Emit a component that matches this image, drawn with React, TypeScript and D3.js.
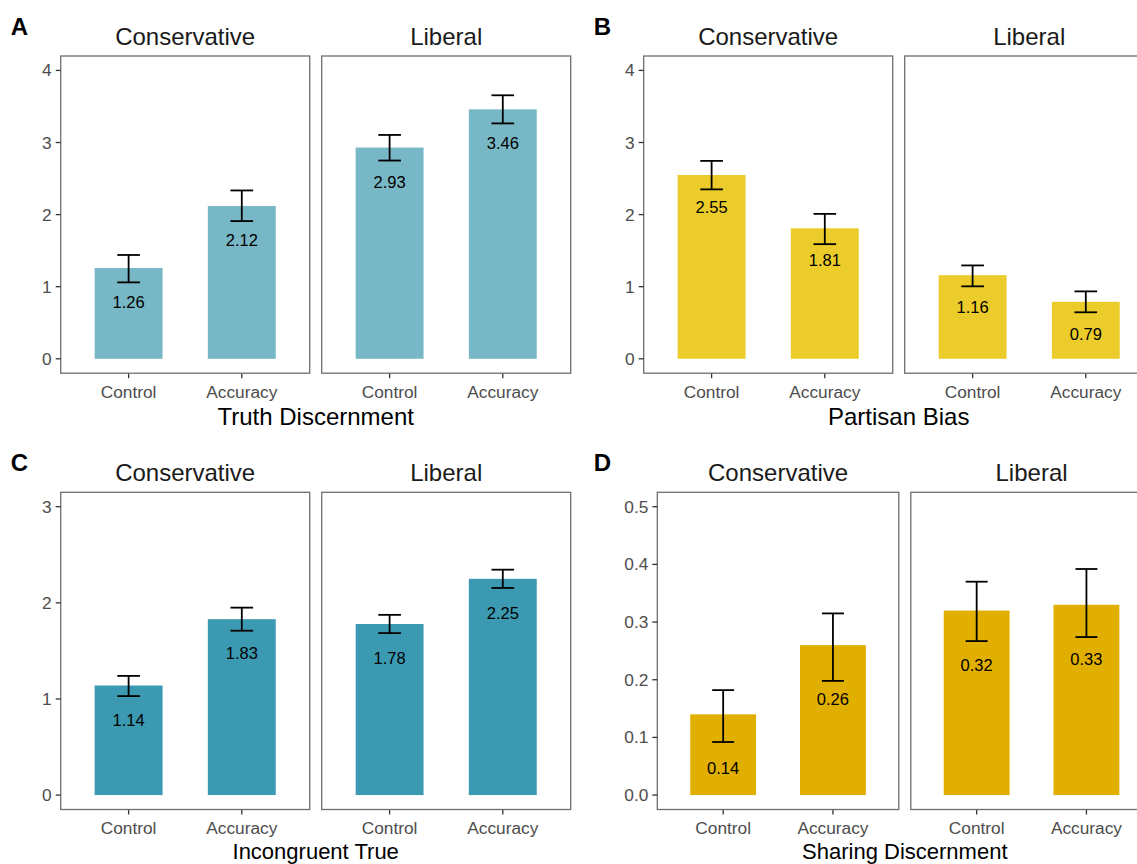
import React from "react";
import * as d3 from "d3";

// Conditions within each facet and the facets themselves
const conditions = ["Control", "Accuracy"];
const ideologies = ["Conservative", "Liberal"];

// Values are ordered: Conservative-Control, Conservative-Accuracy, Liberal-Control, Liberal-Accuracy
const truthMean = [1.26, 2.12, 2.93, 3.46];
const truthLow = [1.06, 1.91, 2.75, 3.265];
const truthHigh = [1.44, 2.335, 3.105, 3.655];

const biasMean = [2.55, 1.81, 1.16, 0.79];
const biasLow = [2.35, 1.59, 1.005, 0.645];
const biasHigh = [2.745, 2.01, 1.295, 0.935];

const incongMean = [1.14, 1.83, 1.78, 2.25];
const incongLow = [1.03, 1.71, 1.685, 2.155];
const incongHigh = [1.24, 1.95, 1.875, 2.345];

const shareMean = [0.14, 0.26, 0.32, 0.33];
const shareLow = [0.092, 0.198, 0.267, 0.274];
const shareHigh = [0.182, 0.315, 0.37, 0.392];

// Axis ticks and limits
const truthTicks = [0, 1, 2, 3, 4];
const biasTicks = [0, 1, 2, 3, 4];
const incongTicks = [0, 1, 2, 3];
const shareTicks = [0, 0.1, 0.2, 0.3, 0.4, 0.5];

const panels = [
  {
    letter: "A", title: "Truth Discernment", mean: truthMean, low: truthLow, high: truthHigh,
    ticks: truthTicks, limit: 4, fmt: d3.format("d"), color: "#78B7C5",
    x0: 0, y0: 0, facetLeft: 60.7, facetWidth: 249, labelOffset: 34,
  },
  {
    letter: "B", title: "Partisan Bias", mean: biasMean, low: biasLow, high: biasHigh,
    ticks: biasTicks, limit: 4, fmt: d3.format("d"), color: "#EBCC2A",
    x0: 583, y0: 0, facetLeft: 60.7, facetWidth: 249, labelOffset: 32,
  },
  {
    letter: "C", title: "Incongruent True", mean: incongMean, low: incongLow, high: incongHigh,
    ticks: incongTicks, limit: 3, fmt: d3.format("d"), color: "#3B9AB2",
    x0: 0, y0: 436.3, facetLeft: 60.7, facetWidth: 249, labelOffset: 34,
  },
  {
    letter: "D", title: "Sharing Discernment", mean: shareMean, low: shareLow, high: shareHigh,
    ticks: shareTicks, limit: 0.5, fmt: d3.format(".1f"), color: "#E1AF00",
    x0: 583, y0: 436.3, facetLeft: 74.3, facetWidth: 241.5, labelOffset: 54,
  },
];

const WIDTH = 1137;
const HEIGHT = 864;
const FONT = "'Liberation Sans', Arial, Helvetica, sans-serif";
const BOX_TOP = 56;
const BOX_H = 317.2;
const FACET_GAP = 12;
const BORDER = "#6e6e6e";
const TICK_TEXT = "#4d4d4d";

function Panel({ p }) {
  const pad = p.limit * 0.05;
  const top = p.y0 + BOX_TOP;
  const bottom = top + BOX_H;
  const y = d3.scaleLinear().domain([-pad, p.limit + pad]).range([bottom, top]);
  const leftStart = p.x0 + p.facetLeft;
  const spanEnd = leftStart + 2 * p.facetWidth + FACET_GAP;
  const fmtLabel = d3.format(".2f");
  // the bottom row's axis titles sit against the canvas edge, so they are set a little smaller
  const nearEdge = p.y0 + 430 > HEIGHT;
  const titleSize = nearEdge ? 22 : 24;
  const titleY = nearEdge ? HEIGHT - 13 : p.y0 + 416.5;

  return (
    <g>
      <text x={p.x0 + 19.5} y={p.y0 + 26} fontSize={24} fontWeight="bold" textAnchor="middle"
        dominantBaseline="central" fontFamily={FONT} fill="#000">{p.letter}</text>

      {ideologies.map((ideo, fi) => {
        const fx = leftStart + fi * (p.facetWidth + FACET_GAP);
        const x = d3.scalePoint().domain(conditions).range([fx, fx + p.facetWidth]).padding(0.6);
        const step = x.step();
        const barW = step * 0.6;
        const capW = step * 0.2;
        return (
          <g key={ideo}>
            <text x={fx + p.facetWidth / 2} y={p.y0 + 36} fontSize={24} textAnchor="middle"
              dominantBaseline="central" fontFamily={FONT} fill="#1a1a1a">{ideo}</text>
            {conditions.map((c, ci) => {
              const i = fi * 2 + ci;
              const cx = x(c);
              return (
                <g key={c}>
                  <rect x={cx - barW / 2} y={y(p.mean[i])} width={barW}
                    height={y(0) - y(p.mean[i])} fill={p.color} />
                  <g stroke="#000" strokeWidth={1.8} fill="none">
                    <line x1={cx} x2={cx} y1={y(p.high[i])} y2={y(p.low[i])} />
                    <line x1={cx - capW / 2} x2={cx + capW / 2} y1={y(p.high[i])} y2={y(p.high[i])} />
                    <line x1={cx - capW / 2} x2={cx + capW / 2} y1={y(p.low[i])} y2={y(p.low[i])} />
                  </g>
                  <text x={cx} y={y(p.mean[i]) + p.labelOffset} fontSize={16.5} textAnchor="middle"
                    dominantBaseline="central" fontFamily={FONT} fill="#000">{fmtLabel(p.mean[i])}</text>
                  <line x1={cx} x2={cx} y1={bottom} y2={bottom + 5} stroke="#333" strokeWidth={1.3} />
                  <text x={cx} y={bottom + 18.5} fontSize={17.3} textAnchor="middle"
                    dominantBaseline="central" fontFamily={FONT} fill={TICK_TEXT}>{c}</text>
                </g>
              );
            })}
            <rect x={fx} y={top} width={p.facetWidth} height={BOX_H} fill="none"
              stroke={BORDER} strokeWidth={1.3} />
          </g>
        );
      })}

      {p.ticks.map((t) => (
        <g key={t}>
          <line x1={leftStart - 5} x2={leftStart} y1={y(t)} y2={y(t)} stroke="#333" strokeWidth={1.3} />
          <text x={leftStart - 9} y={y(t)} fontSize={17.3} textAnchor="end"
            dominantBaseline="central" fontFamily={FONT} fill={TICK_TEXT}>{p.fmt(t)}</text>
        </g>
      ))}

      <text x={(leftStart + spanEnd) / 2} y={titleY} fontSize={titleSize} textAnchor="middle"
        dominantBaseline="central" fontFamily={FONT} fill="#000">{p.title}</text>
    </g>
  );
}

export default function App() {
  return (
    <svg width={WIDTH} height={HEIGHT} style={{ position: "absolute", left: 0, top: 0, background: "#fff" }}>
      <rect x={0} y={0} width={WIDTH} height={HEIGHT} fill="#fff" />
      {panels.map((p) => (
        <Panel key={p.letter} p={p} />
      ))}
    </svg>
  );
}
